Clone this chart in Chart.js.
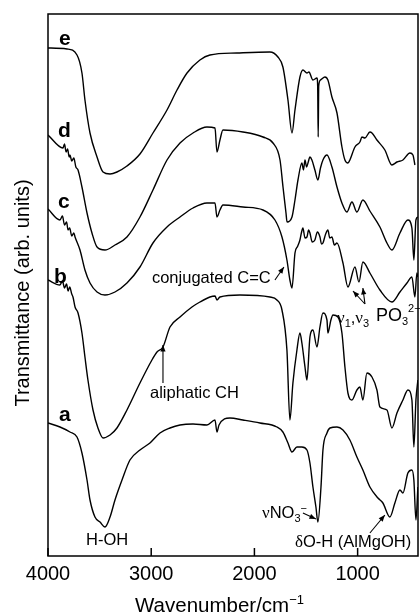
<!DOCTYPE html>
<html>
<head>
<meta charset="utf-8">
<script src="https://cdn.jsdelivr.net/npm/chart.js@4.4.1/dist/chart.umd.min.js"></script>
<style>
  body { margin: 0; background: #fff; }
  canvas { display: block; }
</style>
</head>
<body>
<canvas id="ftir" width="420" height="614"></canvas>
<script>
// wavenumbers (cm-1) and transmittance (arb. units)
const wnA = [4000,3884,3787,3719,3671,3622,3593,3545,3496,3448,3399,3351,3283,3206,3109,3012,2915,2818,2721,2595,2460,2382,2363,2343,2237,2111,1946,1782,1724,1675,1636,1588,1540,1491,1462,1433,1404,1385,1355,1336,1297,1268,1200,1142,1075,1007,949,881,803,755,687,639,590,561,513,474,455,435,416];
const tA  = [133,129,124,119,103,76,56,39,34,29,39,56,76,96,106,113,123,128,131,132,131,136,124,131,138,136,133,129,124,113,104,109,109,106,93,69,49,34,69,106,123,128,129,126,116,99,86,69,58,53,39,53,66,63,83,86,76,36,69];

const wnB = [4000,3884,3860,3840,3820,3806,3790,3770,3758,3738,3709,3671,3642,3613,3564,3516,3467,3399,3332,3235,3109,2993,2944,2886,2818,2721,2605,2528,2431,2382,2363,2334,2140,1850,1782,1733,1685,1656,1627,1588,1559,1540,1510,1491,1462,1433,1394,1365,1336,1297,1288,1259,1239,1191,1152,1123,1094,1055,1007,978,949,910,861,813,784,716,668,619,561,513,474,455,435,416];
const tB  = [276,271,275,268,272,265,269,262,259,249,243,223,199,176,146,128,118,121,128,146,173,196,204,209,229,239,249,254,259,260,256,259,261,259,256,246,206,136,173,206,223,213,189,176,219,226,209,229,243,236,223,236,241,239,223,189,163,156,166,169,156,183,179,166,149,146,128,143,156,166,156,109,156,176];

const wnC = [4000,3884,3860,3840,3820,3806,3790,3770,3750,3738,3690,3642,3593,3525,3448,3351,3235,3109,2983,2847,2721,2595,2460,2382,2363,2334,2305,2111,1917,1801,1733,1685,1656,1636,1607,1580,1559,1545,1530,1510,1491,1475,1462,1440,1414,1390,1365,1350,1336,1310,1288,1270,1249,1225,1200,1142,1094,1026,987,949,881,784,668,590,522,474,445,426,416];
const tC  = [347,336,340,331,334,326,328,320,323,319,306,286,273,264,261,264,273,289,313,329,339,348,353,353,339,346,351,349,346,336,319,296,276,268,303,310,316,323,328,318,319,326,323,314,316,324,319,312,313,322,326,318,319,311,313,293,269,289,274,294,283,266,254,264,273,279,259,283,279];

const wnD = [4000,3855,3840,3825,3810,3795,3787,3770,3750,3730,3709,3671,3622,3574,3525,3448,3351,3235,3109,2983,2847,2721,2595,2460,2382,2363,2334,2305,2111,1917,1820,1752,1723,1694,1684,1636,1607,1578,1540,1525,1510,1495,1481,1462,1443,1414,1385,1360,1336,1297,1249,1200,1152,1104,1055,1007,949,881,784,716,668,590,513,474,455,435,416];
const tD  = [421,408,412,404,407,399,401,395,398,389,386,369,343,323,309,306,311,319,339,366,396,413,423,429,428,404,416,426,424,419,413,396,369,343,334,339,356,376,393,386,396,389,393,399,396,386,376,388,396,401,389,369,353,344,354,344,356,345,329,313,306,323,336,328,296,336,339];

const wnE = [4000,3816,3719,3671,3642,3593,3525,3467,3399,3332,3235,3109,2983,2847,2750,2653,2528,2431,2169,1850,1772,1724,1675,1636,1607,1559,1530,1491,1472,1433,1394,1387,1382,1377,1360,1317,1288,1249,1200,1152,1123,1094,1075,1026,978,958,929,881,861,813,736,668,619,561,493,464,445];
const tE  = [508,507,501,483,456,423,399,384,382,384,390,402,423,446,466,483,496,501,503,504,499,489,456,423,446,479,486,483,484,476,478,470,419,470,476,479,476,459,443,409,396,393,396,409,414,419,418,424,423,416,406,391,394,396,403,401,391];

const xTicks = [4000, 3000, 2000, 1000];

// curve letters: [text, wavenumber, transmittance]
const curveTags = [["e", 3893, 511], ["d", 3903, 419], ["c", 3903, 348], ["b", 3942, 273], ["a", 3893, 135]];

const SANS = '"Liberation Sans", Arial, sans-serif';
const SERIF = '"Liberation Serif", "DejaVu Serif", serif';

const toXY = (wn, t) => wn.map((w, i) => ({ x: w, y: t[i] }));

const series = [
  toXY(wnA, tA), toXY(wnB, tB), toXY(wnC, tC), toXY(wnD, tD), toXY(wnE, tE)
];

function runs(ctx, x, y, parts) {
  parts.forEach(p => {
    ctx.font = p.font;
    ctx.fillText(p.t, x, y + (p.dy || 0));
    x += ctx.measureText(p.t).width;
  });
}

function arrow(ctx, x0, y0, x1, y1) {
  ctx.beginPath();
  ctx.moveTo(x0, y0);
  ctx.lineTo(x1, y1);
  ctx.stroke();
  const ang = Math.atan2(y1 - y0, x1 - x0);
  const L = 7, W = 0.38;
  ctx.beginPath();
  ctx.moveTo(x1, y1);
  ctx.lineTo(x1 - L * Math.cos(ang - W), y1 - L * Math.sin(ang - W));
  ctx.lineTo(x1 - L * Math.cos(ang + W), y1 - L * Math.sin(ang + W));
  ctx.closePath();
  ctx.fill();
}

const decor = {
  id: 'decor',
  afterDraw(chart) {
    const { ctx, chartArea: a, scales: { x, y } } = chart;
    const X = v => x.getPixelForValue(v);
    const Y = v => y.getPixelForValue(v);
    ctx.save();
    ctx.strokeStyle = '#000';
    ctx.fillStyle = '#000';
    ctx.lineWidth = 1.5;
    ctx.strokeRect(a.left, a.top, a.right - a.left, a.bottom - a.top);

    // inward tick marks and their labels
    ctx.font = '20px ' + SANS;
    ctx.textAlign = 'center';
    ctx.textBaseline = 'alphabetic';
    xTicks.forEach(v => {
      ctx.beginPath();
      ctx.moveTo(X(v), a.bottom);
      ctx.lineTo(X(v), a.bottom - 8);
      ctx.stroke();
      ctx.fillText(String(v), X(v), a.bottom + 24);
    });

    // axis titles
    ctx.textAlign = 'left';
    runs(ctx, 135, 612, [
      { t: 'Wavenumber/cm', font: '20.5px ' + SANS },
      { t: '−1', font: '13px ' + SANS, dy: -8 }
    ]);

    ctx.save();
    ctx.translate(29, 293);
    ctx.rotate(-Math.PI / 2);
    ctx.font = '20px ' + SANS;
    ctx.textAlign = 'center';
    ctx.fillText('Transmittance (arb. units)', 0, 0);
    ctx.restore();

    ctx.textAlign = 'left';
    ctx.font = 'bold 21px ' + SANS;
    curveTags.forEach(([t, w, v]) => ctx.fillText(t, X(w), Y(v)));

    const f = '16.5px ' + SANS;
    const fs = '11px ' + SANS;
    const fg = '17px ' + SERIF;
    ctx.font = f;
    ctx.fillText('H-OH', X(3632), Y(11));
    ctx.fillText('aliphatic CH', X(3012), Y(158));
    ctx.fillText('conjugated C=C', X(2993), Y(273));

    runs(ctx, X(1927), Y(38), [
      { t: 'ν', font: fg }, { t: 'NO', font: f }, { t: '3', font: fs, dy: 4 }, { t: '−', font: fs, dy: -6 }
    ]);
    runs(ctx, X(1607), Y(9), [
      { t: 'δ', font: fg }, { t: 'O-H (AlMgOH)', font: f }
    ]);
    runs(ctx, X(1200), Y(233), [
      { t: 'ν', font: fg }, { t: '1', font: fs, dy: 4 }, { t: ',', font: f },
      { t: 'ν', font: fg }, { t: '3', font: fs, dy: 4 }
    ]);
    runs(ctx, X(823), Y(235), [
      { t: 'PO', font: '18px ' + SANS }, { t: '3', font: fs, dy: 4 }, { t: '2−', font: fs, dy: -9 }
    ]);

    ctx.lineWidth = 1.1;
    arrow(ctx, X(2886), Y(173), X(2886), Y(211));
    arrow(ctx, X(1801), Y(276), X(1714), Y(289));
    arrow(ctx, X(1530), Y(43), X(1404), Y(37));
    arrow(ctx, X(881), Y(23), X(736), Y(41));
    arrow(ctx, X(929), Y(252), X(1045), Y(265));
    arrow(ctx, X(929), Y(252), X(949), Y(268));
    ctx.restore();
  }
};

new Chart(document.getElementById('ftir'), {
  type: 'line',
  data: {
    datasets: series.map(d => ({
      data: d,
      borderColor: '#000',
      borderWidth: 1.4,
      pointRadius: 0,
      fill: false,
      cubicInterpolationMode: 'monotone'
    }))
  },
  options: {
    responsive: false,
    animation: false,
    devicePixelRatio: 1,
    layout: { padding: { left: 48, right: 2, top: 14, bottom: 58 } },
    plugins: { legend: { display: false }, tooltip: { enabled: false } },
    scales: {
      x: { type: 'linear', display: false, reverse: true, min: 415, max: 4000 },
      y: { display: false, min: 0, max: 542 }
    }
  },
  plugins: [decor]
});
</script>
</body>
</html>
